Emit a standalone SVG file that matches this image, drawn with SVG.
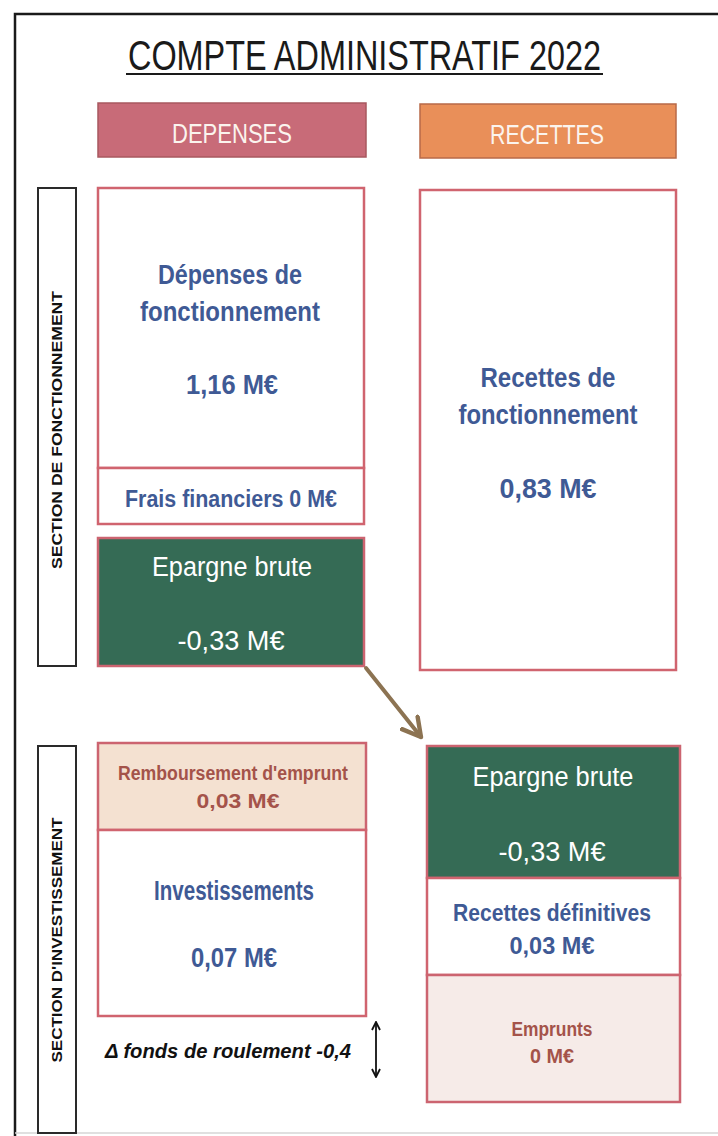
<svg xmlns="http://www.w3.org/2000/svg" width="718" height="1136" viewBox="0 0 718 1136">
  <defs>
    <style>
      .frame { fill: none; stroke: #1a1a1a; stroke-width: 2.5; }
      .box { fill: #ffffff; stroke: #d0646f; stroke-width: 2.5; }
      .green { fill: #356b55; stroke: #cc6470; stroke-width: 2.5; }
      .peach { fill: #f4e1d1; stroke: #cc6470; stroke-width: 2.5; }
      .blush { fill: #f6ebe8; stroke: #cc6470; stroke-width: 2.5; }
      .side { fill: #ffffff; stroke: #2a2a2a; stroke-width: 2; }
      .title { font-family: "Liberation Sans", Arial, sans-serif; font-size: 30px; fill: #1a1a1a; text-anchor: middle; }
      .head { font-family: "Liberation Sans", Arial, sans-serif; font-size: 28px; fill: #fbf4ee; text-anchor: middle; }
      .blue { font-family: "Liberation Sans", Arial, sans-serif; font-weight: bold; font-size: 27px; fill: #3f5a95; text-anchor: middle; }
      .blue-s { font-family: "Liberation Sans", Arial, sans-serif; font-weight: bold; font-size: 23px; fill: #3f5a95; text-anchor: middle; }
      .white { font-family: "Liberation Sans", Arial, sans-serif; font-size: 27px; fill: #ffffff; text-anchor: middle; }
      .brown { font-family: "Liberation Sans", Arial, sans-serif; font-weight: bold; font-size: 20px; fill: #a4534a; text-anchor: middle; }
      .vlabel { font-family: "Liberation Sans", Arial, sans-serif; font-weight: bold; font-size: 14px; fill: #111111; text-anchor: middle; }
      .note { font-family: "Liberation Sans", Arial, sans-serif; font-weight: bold; font-style: italic; font-size: 21px; fill: #111111; }
      .link { fill: none; stroke: #8c7352; stroke-width: 4; stroke-linecap: round; stroke-linejoin: round; }
      .dbl { fill: none; stroke: #111111; stroke-width: 1.8; }
    </style>
    <marker id="headBrown" viewBox="0 0 12 12" refX="10" refY="6" markerWidth="6" markerHeight="6" orient="auto" markerUnits="strokeWidth">
      <path d="M1,1 L10,6 L1,11" fill="none" stroke="#8c7352" stroke-width="2.2" stroke-linecap="round" stroke-linejoin="round"/>
    </marker>
    <marker id="headBlack" viewBox="0 0 10 10" refX="9" refY="5" markerWidth="10" markerHeight="10" orient="auto-start-reverse" markerUnits="userSpaceOnUse">
      <path d="M1,1 L9,5 L1,9" fill="none" stroke="#111111" stroke-width="1.8"/>
    </marker>
  </defs>

  <rect width="718" height="1136" fill="#ffffff"/>

  <!-- page frame -->
  <path class="frame" d="M15,1136 L15,14 L718,14"/>
  <line x1="15" y1="1133" x2="718" y2="1133" stroke="#d6d6d6" stroke-width="1.5"/>

  <!-- title: stretched vertically for a tall, narrow look -->
  <g id="title">
    <text class="title" transform="translate(364.5,70) scale(1,1.4)" x="0" y="0" textLength="473" lengthAdjust="spacingAndGlyphs">COMPTE ADMINISTRATIF 2022</text>
    <line x1="126" y1="74" x2="603" y2="74" stroke="#1a1a1a" stroke-width="2"/>
  </g>

  <!-- column headers -->
  <g id="hdr-depenses">
    <rect x="98" y="103" width="268" height="54" fill="#c86b78" stroke="#a8585f" stroke-width="1.5"/>
    <text class="head" x="232" y="143" textLength="120" lengthAdjust="spacingAndGlyphs">DEPENSES</text>
  </g>
  <g id="hdr-recettes">
    <rect x="420" y="104" width="256" height="54" fill="#e98f59" stroke="#b86a48" stroke-width="1.5"/>
    <text class="head" x="547" y="144" textLength="114" lengthAdjust="spacingAndGlyphs">RECETTES</text>
  </g>

  <!-- section labels -->
  <g id="sec-fonctionnement">
    <rect class="side" x="38" y="188" width="38" height="478"/>
    <text class="vlabel" transform="translate(62,430) rotate(-90)" textLength="278" lengthAdjust="spacingAndGlyphs">SECTION DE FONCTIONNEMENT</text>
  </g>
  <g id="sec-investissement">
    <rect class="side" x="38" y="746" width="38" height="387"/>
    <text class="vlabel" transform="translate(62,940) rotate(-90)" textLength="245" lengthAdjust="spacingAndGlyphs">SECTION D'INVESTISSEMENT</text>
  </g>

  <!-- fonctionnement: dépenses -->
  <g id="dep-fonct">
    <rect class="box" x="98" y="188" width="266" height="280"/>
    <text class="blue" x="230" y="284" textLength="144" lengthAdjust="spacingAndGlyphs">Dépenses de</text>
    <text class="blue" x="230" y="321" textLength="180" lengthAdjust="spacingAndGlyphs">fonctionnement</text>
    <text class="blue" x="232" y="394" textLength="92" lengthAdjust="spacingAndGlyphs">1,16 M€</text>
  </g>
  <g id="frais-fin">
    <rect class="box" x="98" y="468" width="266" height="56"/>
    <text class="blue-s" x="231" y="507" textLength="212" lengthAdjust="spacingAndGlyphs">Frais financiers  0 M€</text>
  </g>
  <g id="epargne-dep">
    <rect class="green" x="98" y="538" width="266" height="128"/>
    <text class="white" x="232" y="576" textLength="160" lengthAdjust="spacingAndGlyphs">Epargne brute</text>
    <text class="white" x="231" y="650" textLength="107" lengthAdjust="spacingAndGlyphs">-0,33 M€</text>
  </g>

  <!-- fonctionnement: recettes -->
  <g id="rec-fonct">
    <rect class="box" x="420" y="190" width="256" height="480"/>
    <text class="blue" x="548" y="387" textLength="135" lengthAdjust="spacingAndGlyphs">Recettes de</text>
    <text class="blue" x="548" y="424" textLength="179" lengthAdjust="spacingAndGlyphs">fonctionnement</text>
    <text class="blue" x="548" y="498" textLength="97" lengthAdjust="spacingAndGlyphs">0,83 M€</text>
  </g>

  <!-- investissement: dépenses -->
  <g id="remboursement">
    <rect class="peach" x="98" y="743" width="268" height="87"/>
    <text class="brown" x="233" y="780" textLength="230" lengthAdjust="spacingAndGlyphs">Remboursement d'emprunt</text>
    <text class="brown" x="238" y="808" textLength="83" lengthAdjust="spacingAndGlyphs">0,03 M€</text>
  </g>
  <g id="investissements">
    <rect class="box" x="98" y="830" width="268" height="186"/>
    <text class="blue" x="234" y="900" textLength="160" lengthAdjust="spacingAndGlyphs">Investissements</text>
    <text class="blue" x="234" y="967" textLength="86" lengthAdjust="spacingAndGlyphs">0,07 M€</text>
  </g>
  <g id="fonds-roulement">
    <text class="note" x="105" y="1058" textLength="246" lengthAdjust="spacingAndGlyphs">Δ fonds de roulement -0,4</text>
  </g>

  <!-- investissement: recettes -->
  <g id="epargne-rec">
    <rect class="green" x="427" y="746" width="253" height="132"/>
    <text class="white" x="553" y="786" textLength="161" lengthAdjust="spacingAndGlyphs">Epargne brute</text>
    <text class="white" x="552" y="861" textLength="107" lengthAdjust="spacingAndGlyphs">-0,33 M€</text>
  </g>
  <g id="recettes-def">
    <rect class="box" x="427" y="878" width="253" height="97"/>
    <text class="blue-s" x="552" y="921" textLength="198" lengthAdjust="spacingAndGlyphs">Recettes définitives</text>
    <text class="blue-s" x="552" y="954" textLength="85" lengthAdjust="spacingAndGlyphs">0,03 M€</text>
  </g>
  <g id="emprunts">
    <rect class="blush" x="427" y="975" width="253" height="127"/>
    <text class="brown" x="552" y="1036" textLength="81" lengthAdjust="spacingAndGlyphs">Emprunts</text>
    <text class="brown" x="552" y="1063" textLength="44" lengthAdjust="spacingAndGlyphs">0 M€</text>
  </g>

  <!-- connectors -->
  <g id="connectors">
    <line class="link" x1="366" y1="668" x2="421" y2="737" marker-end="url(#headBrown)"/>
    <line class="dbl" x1="376" y1="1022" x2="376" y2="1077" marker-start="url(#headBlack)" marker-end="url(#headBlack)"/>
  </g>
</svg>
